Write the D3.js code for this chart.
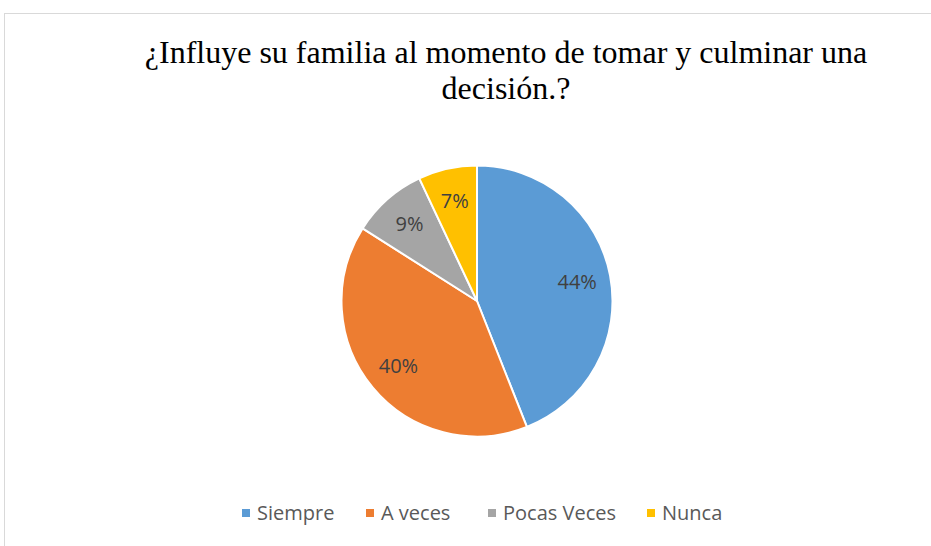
<!DOCTYPE html>
<html>
<head>
<meta charset="utf-8">
<script src="https://cdn.jsdelivr.net/npm/d3@7"></script>
<style>
  html, body { margin: 0; padding: 0; background: #fff; }
  svg { display: block; }
</style>
</head>
<body>
<svg id="chart" width="931" height="546"></svg>
<script>
// chart data
const categories = ['Siempre', 'A veces', 'Pocas Veces', 'Nunca'];
const values = [44, 40, 9, 7];
const titleLines = ['¿Influye su familia al momento de tomar y culminar una', 'decisión.?'];

const cs = {
  width: 931,
  height: 546,
  pallette: ['#5b9bd5', '#ed7d31', '#a5a5a5', '#ffc000'],
  pie: { cx: 477, cy: 301, r: 135.5, labelR: 102 },
  legend: { y: 513, square: 8 },
};

const svg = d3.select('#chart');

// chart area border (only top/left visible in the crop)
svg.append('rect')
  .attr('x', 4.5)
  .attr('y', 13.5)
  .attr('width', 1000)
  .attr('height', 600)
  .attr('fill', '#fff')
  .attr('stroke', '#d9d9d9')
  .attr('stroke-width', 1);

// title
svg.append('text')
  .attr('text-anchor', 'middle')
  .attr('font-family', '"Liberation Serif", "Times New Roman", serif')
  .attr('font-size', 32)
  .attr('fill', '#000')
  .selectAll('tspan')
  .data(titleLines)
  .join('tspan')
  .attr('x', 506)
  .attr('y', (d, i) => 63 + i * 36)
  .text(d => d);

const color = d3.scaleOrdinal().domain(categories).range(cs.pallette);
const total = d3.sum(values);
const data = categories.map((c, i) => ({ cat: c, value: values[i] }));

const pie = d3.pie().sort(null).value(d => d.value);
const arc = d3.arc().innerRadius(0).outerRadius(cs.pie.r);
const labelArc = d3.arc().innerRadius(cs.pie.labelR).outerRadius(cs.pie.labelR);

const g = svg.append('g').attr('transform', `translate(${cs.pie.cx},${cs.pie.cy})`);

g.selectAll('path')
  .data(pie(data))
  .join('path')
  .attr('d', arc)
  .attr('fill', d => color(d.data.cat))
  .attr('stroke', '#fff')
  .attr('stroke-width', 2)
  .attr('stroke-linejoin', 'round');

g.selectAll('text')
  .data(pie(data))
  .join('text')
  .attr('transform', d => `translate(${labelArc.centroid(d)})`)
  .attr('text-anchor', 'middle')
  .attr('dy', '0.35em')
  .attr('font-family', '"Open Sans", sans-serif')
  .attr('font-size', 20)
  .attr('fill', '#404040')
  .text(d => `${Math.round(d.data.value / total * 100)}%`);

// legend
const legendX = d3.scaleOrdinal().domain(categories).range([242, 366, 488, 647]);
const legend = svg.append('g');
const items = legend.selectAll('g')
  .data(categories)
  .join('g')
  .attr('transform', d => `translate(${legendX(d)},${cs.legend.y})`);

items.append('rect')
  .attr('x', 0)
  .attr('y', -cs.legend.square / 2)
  .attr('width', cs.legend.square)
  .attr('height', cs.legend.square)
  .attr('fill', d => color(d));

items.append('text')
  .attr('x', cs.legend.square + 7)
  .attr('dy', '0.35em')
  .attr('font-family', '"Open Sans", sans-serif')
  .attr('font-size', 20)
  .attr('fill', '#595959')
  .text(d => d);
</script>
</body>
</html>
